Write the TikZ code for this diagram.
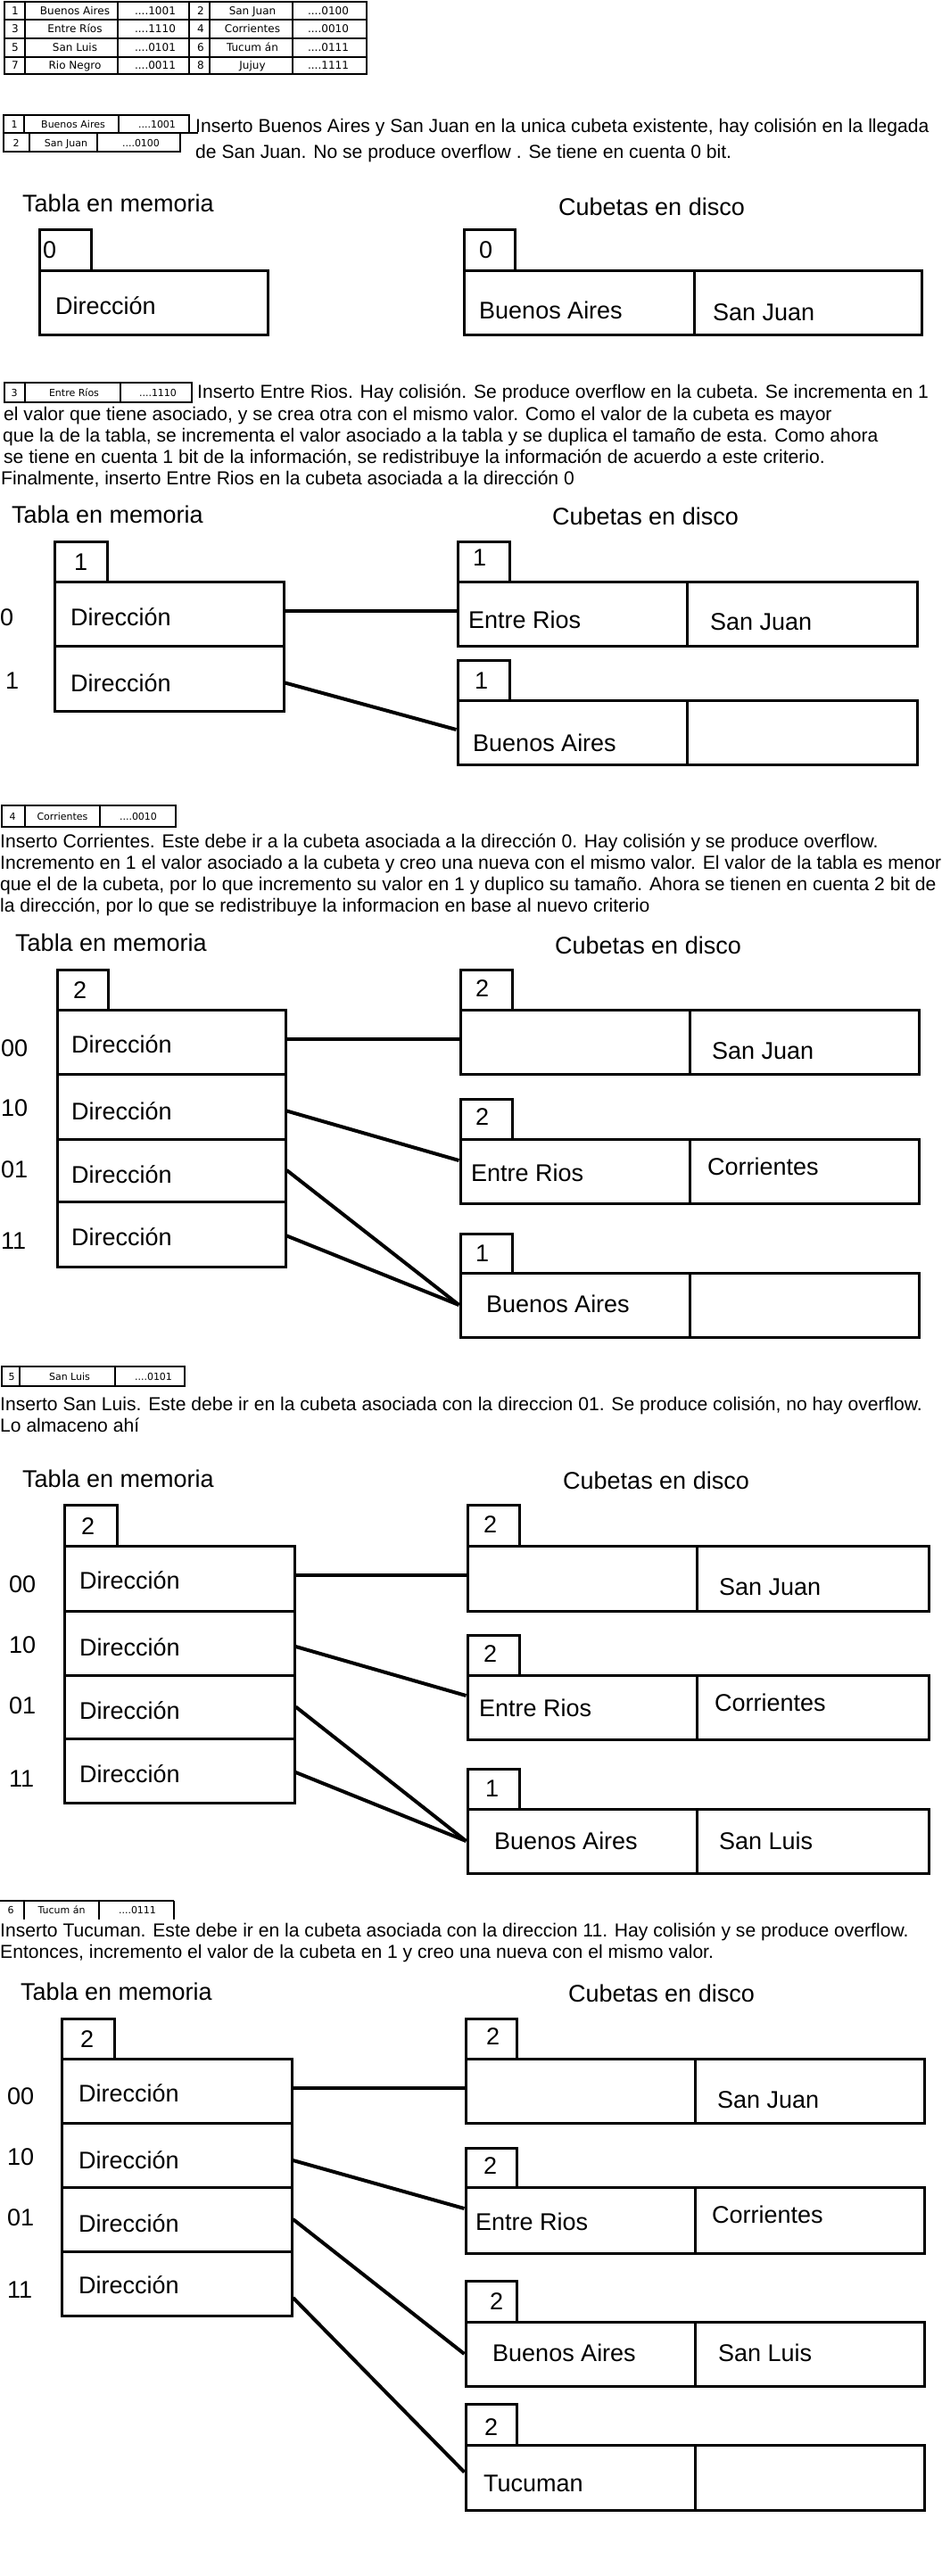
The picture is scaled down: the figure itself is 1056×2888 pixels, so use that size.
\documentclass[tikz,border=0pt]{standalone}
\usepackage{fontspec}
\setmainfont{Liberation Sans}
\newfontfamily\tabfont{DejaVu Sans}
\usetikzlibrary{fit}
\newcommand{\mybox}[3]{\node[bx, fit={#2 #3}] (#1) {};}
\newcommand{\mytxt}[3]{\node[big] (#1) at #2 {#3};}
\begin{document}
\begin{tikzpicture}[x=1pt,y=-1pt,
  bx/.style={draw, line width=3pt, inner sep=0pt},
  conn/.style={line width=4pt},
  thinl/.style={line width=1.3pt},
  big/.style={font=\fontsize{27}{31}\selectfont, inner sep=0pt, text height=19.3pt, text depth=0pt, anchor=west},
  para/.style={font=\fontsize{21.1}{24}\selectfont, inner sep=0pt, text height=15pt, text depth=0pt, anchor=west},
  tcell/.style={font=\tabfont\fontsize{12}{14}\selectfont, inner sep=0pt, text height=8.7pt, text depth=0pt},
  scell/.style={font=\tabfont\fontsize{11}{13}\selectfont, inner sep=0pt, text height=8pt, text depth=0pt}]
\useasboundingbox (0,0) rectangle (1056,2888);
\fill[white] (0,0) rectangle (1056,2888);

% ---------------- top table
\draw[thinl] (5,2) rectangle (411,83);
\foreach \yy in {22,43,64} \draw[thinl] (5,\yy) -- (411,\yy);
\foreach \xx in {28,132,212,235,328} \draw[thinl] (\xx,2) -- (\xx,83);
\node[tcell] (c11) at (17,12) {1};
\node[tcell] (c12) at (84,12) {Buenos Aires};
\node[tcell] (c13) at (174,12) {....1001};
\node[tcell] (c14) at (225,12) {2};
\node[tcell] (c15) at (283,12) {San Juan};
\node[tcell] (c16) at (368,12) {....0100};
\node[tcell] (c21) at (17,32.5) {3};
\node[tcell] (c22) at (84,32.5) {Entre Ríos};
\node[tcell] (c23) at (174,32.5) {....1110};
\node[tcell] (c24) at (225,32.5) {4};
\node[tcell] (c25) at (283,32.5) {Corrientes};
\node[tcell] (c26) at (368,32.5) {....0010};
\node[tcell] (c31) at (17,53.5) {5};
\node[tcell] (c32) at (84,53.5) {San Luis};
\node[tcell] (c33) at (174,53.5) {....0101};
\node[tcell] (c34) at (225,53.5) {6};
\node[tcell] (c35) at (283,53.5) {Tucum án};
\node[tcell] (c36) at (368,53.5) {....0111};
\node[tcell] (c41) at (17,73.5) {7};
\node[tcell] (c42) at (84,73.5) {Rio Negro};
\node[tcell] (c43) at (174,73.5) {....0011};
\node[tcell] (c44) at (225,73.5) {8};
\node[tcell] (c45) at (283,73.5) {Jujuy};
\node[tcell] (c46) at (368,73.5) {....1111};

% ---------------- section 1
\draw[thinl] (4,129) rectangle (212,149);
\draw[thinl] (27,129) -- (27,149) (133,129) -- (133,149) (212,149) -- (222,149);
\draw[thinl] (4,149) rectangle (202,170);
\draw[thinl] (33,149) -- (33,170) (109,149) -- (109,170);
\node[scell] (s1a1) at (16,139) {1};
\node[scell] (s1a2) at (82,139) {Buenos Aires};
\node[scell] (s1a3) at (176,139) {....1001};
\node[scell] (s1b1) at (18,160) {2};
\node[scell] (s1b2) at (74,160) {San Juan};
\node[scell] (s1b3) at (158,160) {....0100};
\node[para] (p1a) at (219,141) {Inserto Buenos Aires y San Juan en la unica cubeta existente, hay colisión en la llegada};
\node[para] (p1b) at (219,170) {de San Juan. No se produce overflow . Se tiene en cuenta 0 bit.};

\mytxt{h1a}{(25,228)}{Tabla en memoria}
\mytxt{h1b}{(626,232)}{Cubetas en disco}
\mybox{m1t}{(44,257)}{(102,303)}
\mybox{m1r0}{(44,303)}{(300,375)}
\mytxt{m1tx}{(48,280)}{0}
\mytxt{m1d0}{(62,343)}{Dirección}
\mybox{b1t}{(520,257)}{(577,303)}
\mybox{b1l}{(520,303)}{(778,375)}
\mybox{b1r}{(778,303)}{(1033,375)}
\mytxt{b1tx}{(537,280)}{0}
\mytxt{b1lx}{(537,348)}{Buenos Aires}
\mytxt{b1rx}{(799,350)}{San Juan}

% ---------------- section 2
\draw[thinl] (5,429) rectangle (215,451);
\draw[thinl] (28,429) -- (28,451) (135,429) -- (135,451);
\node[scell] (s2a1) at (16,440) {3};
\node[scell] (s2a2) at (83,440) {Entre Ríos};
\node[scell] (s2a3) at (177,440) {....1110};
\node[para] (p2a) at (221,439) {Inserto Entre Rios. Hay colisión. Se produce overflow en la cubeta. Se incrementa en 1};
\node[para] (p2b) at (4,464) {el valor que tiene asociado, y se crea otra con el mismo valor. Como el valor de la cubeta es mayor};
\node[para] (p2c) at (3,488) {que la de la tabla, se incrementa el valor asociado a la tabla y se duplica el tamaño de esta. Como ahora};
\node[para] (p2d) at (4,512) {se tiene en cuenta 1 bit de la información, se redistribuye la información de acuerdo a este criterio.};
\node[para] (p2e) at (1,536) {Finalmente, inserto Entre Rios en la cubeta asociada a la dirección 0};

\mytxt{h2a}{(13,577)}{Tabla en memoria}
\mytxt{h2b}{(619,579)}{Cubetas en disco}
\mybox{m2t}{(61,607)}{(120,652)}
\mybox{m2r0}{(61,652)}{(318,724)}
\mybox{m2r1}{(61,724)}{(318,797)}
\mytxt{m2tx}{(83,630)}{1}
\mytxt{m2k0}{(0,692)}{0}
\mytxt{m2k1}{(6,763)}{1}
\mytxt{m2d0}{(79,692)}{Dirección}
\mytxt{m2d1}{(79,766)}{Dirección}
\mybox{b2at}{(513,607)}{(571,652)}
\mybox{b2al}{(513,652)}{(770,724)}
\mybox{b2ar}{(770,652)}{(1028,724)}
\mytxt{b2atx}{(530,625)}{1}
\mytxt{b2alx}{(525,695)}{Entre Rios}
\mytxt{b2arx}{(796,697)}{San Juan}
\mybox{b2bt}{(513,740)}{(571,785)}
\mybox{b2bl}{(513,785)}{(770,857)}
\mybox{b2br}{(770,785)}{(1028,857)}
\mytxt{b2btx}{(532,763)}{1}
\mytxt{b2blx}{(530,833)}{Buenos Aires}
\draw[conn] ([yshift=3pt]m2r0.east) -- ([yshift=3pt]b2al.west);
\draw[conn] ([yshift=-5pt]m2r1.east) -- ([yshift=3pt]b2bl.west);

% ---------------- section 3
\draw[thinl] (2,903) rectangle (197,927);
\draw[thinl] (28,903) -- (28,927) (112,903) -- (112,927);
\node[scell] (s3a1) at (14,915) {4};
\node[scell] (s3a2) at (70,915) {Corrientes};
\node[scell] (s3a3) at (155,915) {....0010};
\node[para] (p3a) at (0,943) {Inserto Corrientes. Este debe ir a la cubeta asociada a la dirección 0. Hay colisión y se produce overflow.};
\node[para] (p3b) at (0,967) {Incremento en 1 el valor asociado a la cubeta y creo una nueva con el mismo valor. El valor de la tabla es menor};
\node[para] (p3c) at (0,991) {que el de la cubeta, por lo que incremento su valor en 1 y duplico su tamaño. Ahora se tienen en cuenta 2 bit de};
\node[para] (p3d) at (0,1015) {la dirección, por lo que se redistribuye la informacion en base al nuevo criterio};

\mytxt{h3a}{(17,1057)}{Tabla en memoria}
\mytxt{h3b}{(622,1060)}{Cubetas en disco}
\mybox{m3t}{(64,1087)}{(121,1132)}
\mybox{m3r0}{(64,1132)}{(320,1204)}
\mybox{m3r1}{(64,1204)}{(320,1277)}
\mybox{m3r2}{(64,1277)}{(320,1347)}
\mybox{m3r3}{(64,1347)}{(320,1420)}
\mytxt{m3tx}{(82,1110)}{2}
\mytxt{m3k0}{(1,1175)}{00}
\mytxt{m3k1}{(1,1242)}{10}
\mytxt{m3k2}{(1,1311)}{01}
\mytxt{m3k3}{(1,1391)}{11}
\mytxt{m3d0}{(80,1171)}{Dirección}
\mytxt{m3d1}{(80,1246)}{Dirección}
\mytxt{m3d2}{(80,1317)}{Dirección}
\mytxt{m3d3}{(80,1387)}{Dirección}
\mybox{b3at}{(516,1087)}{(574,1132)}
\mybox{b3al}{(516,1132)}{(773,1204)}
\mybox{b3ar}{(773,1132)}{(1030,1204)}
\mytxt{b3atx}{(533,1108)}{2}
\mytxt{b3arx}{(798,1178)}{San Juan}
\mybox{b3bt}{(516,1232)}{(574,1277)}
\mybox{b3bl}{(516,1277)}{(773,1349)}
\mybox{b3br}{(773,1277)}{(1030,1349)}
\mytxt{b3btx}{(533,1252)}{2}
\mytxt{b3blx}{(528,1315)}{Entre Rios}
\mytxt{b3brx}{(793,1308)}{Corrientes}
\mybox{b3ct}{(516,1383)}{(574,1427)}
\mybox{b3cl}{(516,1427)}{(773,1499)}
\mybox{b3cr}{(773,1427)}{(1030,1499)}
\mytxt{b3ctx}{(533,1405)}{1}
\mytxt{b3clx}{(545,1462)}{Buenos Aires}
\draw[conn] ([yshift=3pt]m3r0.east) -- ([yshift=3pt]b3al.west);
\draw[conn] ([yshift=-5pt]m3r1.east) -- ([yshift=12pt]b3bl.west);
\draw[conn] (m3r2.east) -- (b3cl.west);
\draw[conn] ([yshift=-2pt]m3r3.east) -- (b3cl.west);

% ---------------- section 4
\draw[thinl] (2,1532) rectangle (207,1554);
\draw[thinl] (22,1532) -- (22,1554) (129,1532) -- (129,1554);
\node[scell] (s4a1) at (13,1543) {5};
\node[scell] (s4a2) at (78,1543) {San Luis};
\node[scell] (s4a3) at (172,1543) {....0101};
\node[para] (p4a) at (0,1574) {Inserto San Luis. Este debe ir en la cubeta asociada con la direccion 01. Se produce colisión, no hay overflow.};
\node[para] (p4b) at (0,1598) {Lo almaceno ahí};

\mytxt{h4a}{(25,1658)}{Tabla en memoria}
\mytxt{h4b}{(631,1660)}{Cubetas en disco}
\mybox{m4t}{(72,1687)}{(131,1733)}
\mybox{m4r0}{(72,1733)}{(330,1806)}
\mybox{m4r1}{(72,1806)}{(330,1878)}
\mybox{m4r2}{(72,1878)}{(330,1949)}
\mybox{m4r3}{(72,1949)}{(330,2021)}
\mytxt{m4tx}{(91,1711)}{2}
\mytxt{m4k0}{(10,1776)}{00}
\mytxt{m4k1}{(10,1844)}{10}
\mytxt{m4k2}{(10,1912)}{01}
\mytxt{m4k3}{(10,1994)}{11}
\mytxt{m4d0}{(89,1772)}{Dirección}
\mytxt{m4d1}{(89,1847)}{Dirección}
\mytxt{m4d2}{(89,1918)}{Dirección}
\mytxt{m4d3}{(89,1989)}{Dirección}
\mybox{b4at}{(524,1687)}{(582,1733)}
\mybox{b4al}{(524,1733)}{(781,1806)}
\mybox{b4ar}{(781,1733)}{(1041,1806)}
\mytxt{b4atx}{(542,1709)}{2}
\mytxt{b4arx}{(806,1779)}{San Juan}
\mybox{b4bt}{(524,1833)}{(582,1878)}
\mybox{b4bl}{(524,1878)}{(781,1950)}
\mybox{b4br}{(781,1878)}{(1041,1950)}
\mytxt{b4btx}{(542,1854)}{2}
\mytxt{b4blx}{(537,1915)}{Entre Rios}
\mytxt{b4brx}{(801,1909)}{Corrientes}
\mybox{b4ct}{(524,1983)}{(582,2028)}
\mybox{b4cl}{(524,2028)}{(781,2100)}
\mybox{b4cr}{(781,2028)}{(1041,2100)}
\mytxt{b4ctx}{(544,2005)}{1}
\mytxt{b4clx}{(554,2064)}{Buenos Aires}
\mytxt{b4crx}{(806,2064)}{San Luis}
\draw[conn] ([yshift=4pt]m4r0.east) -- ([yshift=4pt]b4al.west);
\draw[conn] ([yshift=-4pt]m4r1.east) -- ([yshift=13pt]b4bl.west);
\draw[conn] (m4r2.east) -- (b4cl.west);
\draw[conn] ([yshift=-2pt]m4r3.east) -- (b4cl.west);

% ---------------- section 5
\draw[thinl] (0,2131) -- (195,2131);
\draw[thinl] (27,2131) -- (27,2152) (111,2131) -- (111,2152) (195,2131) -- (195,2152);
\node[scell] (s5a1) at (12,2141) {6};
\node[scell] (s5a2) at (69,2141) {Tucum án};
\node[scell] (s5a3) at (154,2141) {....0111};
\node[para] (p5a) at (0,2164) {Inserto Tucuman. Este debe ir en la cubeta asociada con la direccion 11. Hay colisión y se produce overflow.};
\node[para] (p5b) at (0,2188) {Entonces, incremento el valor de la cubeta en 1 y creo una nueva con el mismo valor.};

\mytxt{h5a}{(23,2233)}{Tabla en memoria}
\mytxt{h5b}{(637,2235)}{Cubetas en disco}
\mybox{m5t}{(69,2263)}{(128,2308)}
\mybox{m5r0}{(69,2308)}{(327,2380)}
\mybox{m5r1}{(69,2380)}{(327,2452)}
\mybox{m5r2}{(69,2452)}{(327,2524)}
\mybox{m5r3}{(69,2524)}{(327,2596)}
\mytxt{m5tx}{(90,2286)}{2}
\mytxt{m5k0}{(8,2350)}{00}
\mytxt{m5k1}{(8,2418)}{10}
\mytxt{m5k2}{(8,2486)}{01}
\mytxt{m5k3}{(8,2567)}{11}
\mytxt{m5d0}{(88,2347)}{Dirección}
\mytxt{m5d1}{(88,2422)}{Dirección}
\mytxt{m5d2}{(88,2493)}{Dirección}
\mytxt{m5d3}{(88,2562)}{Dirección}
\mybox{b5at}{(522,2263)}{(579,2308)}
\mybox{b5al}{(522,2308)}{(779,2380)}
\mybox{b5ar}{(779,2308)}{(1036,2380)}
\mytxt{b5atx}{(545,2283)}{2}
\mytxt{b5arx}{(804,2354)}{San Juan}
\mybox{b5bt}{(522,2408)}{(579,2452)}
\mybox{b5bl}{(522,2452)}{(779,2526)}
\mybox{b5br}{(779,2452)}{(1036,2526)}
\mytxt{b5btx}{(542,2428)}{2}
\mytxt{b5blx}{(533,2491)}{Entre Rios}
\mytxt{b5brx}{(798,2483)}{Corrientes}
\mybox{b5ct}{(522,2557)}{(579,2603)}
\mybox{b5cl}{(522,2603)}{(779,2675)}
\mybox{b5cr}{(779,2603)}{(1036,2675)}
\mytxt{b5ctx}{(549,2580)}{2}
\mytxt{b5clx}{(552,2638)}{Buenos Aires}
\mytxt{b5crx}{(805,2638)}{San Luis}
\mybox{b5dt}{(522,2695)}{(579,2741)}
\mybox{b5dl}{(522,2741)}{(779,2814)}
\mybox{b5dr}{(779,2741)}{(1036,2814)}
\mytxt{b5dtx}{(543,2721)}{2}
\mytxt{b5dlx}{(542,2784)}{Tucuman}
\draw[conn] ([yshift=3pt]m5r0.east) -- ([yshift=3pt]b5al.west);
\draw[conn] ([yshift=-6pt]m5r1.east) -- ([yshift=13pt]b5bl.west);
\draw[conn] (m5r2.east) -- (b5cl.west);
\draw[conn] ([yshift=-16pt]m5r3.east) -- ([yshift=6pt]b5dl.west);
\end{tikzpicture}
\end{document}
